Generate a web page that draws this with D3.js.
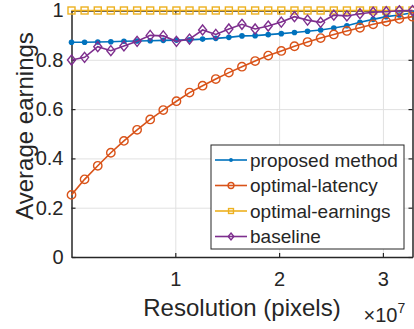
<!DOCTYPE html>
<html>
<head>
<meta charset="utf-8">
<script src="https://cdn.jsdelivr.net/npm/d3@7"></script>
<style>
  body { margin: 0; background: #fff; }
  text { font-family: "Liberation Sans", Arial, Helvetica, sans-serif; fill: #262626; }
</style>
</head>
<body>
<svg id="chart"></svg>
<script>
// resolution in units of 1e7 pixels
const resolution = [0, 0.126, 0.253, 0.379, 0.505, 0.632, 0.758, 0.884, 1.011, 1.137,
  1.263, 1.390, 1.516, 1.642, 1.769, 1.895, 2.021, 2.148, 2.274, 2.400,
  2.527, 2.653, 2.779, 2.906, 3.032, 3.158, 3.285];

const proposedMethod = [0.871, 0.871, 0.872, 0.873, 0.875, 0.876, 0.877, 0.879, 0.880, 0.881,
  0.884, 0.887, 0.891, 0.897, 0.898, 0.902, 0.906, 0.911, 0.916, 0.921,
  0.929, 0.938, 0.952, 0.964, 0.975, 0.982, 0.991];

const optimalLatency = [0.252, 0.315, 0.370, 0.423, 0.471, 0.516, 0.558, 0.596, 0.632, 0.667,
  0.695, 0.722, 0.748, 0.772, 0.795, 0.817, 0.836, 0.855, 0.872, 0.888,
  0.903, 0.917, 0.930, 0.944, 0.955, 0.966, 0.975];

const optimalEarnings = [1, 1, 1, 1, 1, 1, 1, 1, 1, 1,
  1, 1, 1, 1, 1, 1, 1, 1, 1, 1,
  1, 1, 1, 1, 1, 1, 1];

const baseline = [0.799, 0.810, 0.853, 0.837, 0.856, 0.875, 0.899, 0.897, 0.875, 0.884,
  0.921, 0.903, 0.925, 0.944, 0.925, 0.937, 0.953, 0.975, 0.961, 0.952,
  0.981, 0.978, 0.987, 0.993, 0.995, 0.999, 1.0];

const seriesNames = ["proposed method", "optimal-latency", "optimal-earnings", "baseline"];
const xTicks = [1, 2, 3];
const yTicks = [0, 0.2, 0.4, 0.6, 0.8, 1];

class LineChart {

  constructor(_config) {
    this.config = {
      parentElement: _config.parentElement,
      containerWidth: _config.containerWidth || 414,
      containerHeight: _config.containerHeight || 329,
      margin: { top: 10.5, bottom: 72, right: 1.5, left: 71.5 }
    }
    this.initVis();
  }

  initVis() {
    let vis = this;

    vis.width = vis.config.containerWidth - vis.config.margin.left - vis.config.margin.right;
    vis.height = vis.config.containerHeight - vis.config.margin.top - vis.config.margin.bottom;

    vis.svg = d3.select(vis.config.parentElement)
        .attr('width', vis.config.containerWidth)
        .attr('height', vis.config.containerHeight);

    vis.chart = vis.svg.append('g')
        .attr('transform', `translate(${vis.config.margin.left},${vis.config.margin.top})`);

    vis.xScale = d3.scaleLinear()
        .domain([0, resolution[resolution.length - 1]])
        .range([0, vis.width]);

    vis.yScale = d3.scaleLinear()
        .domain([0, 1])
        .range([vis.height, 0]);

    // grid
    vis.chart.append('g')
        .call(d3.axisBottom(vis.xScale).tickValues(xTicks).tickSize(vis.height).tickFormat(''))
        .call(g => g.select('.domain').remove())
        .selectAll('line').attr('stroke', '#e1e1e1').attr('stroke-width', 1);

    vis.chart.append('g')
        .call(d3.axisLeft(vis.yScale).tickValues(yTicks).tickSize(-vis.width).tickFormat(''))
        .call(g => g.select('.domain').remove())
        .selectAll('line').attr('stroke', '#e1e1e1').attr('stroke-width', 1);

    // axes (ticks inside, on all four sides)
    const tl = 4;
    const fmt = d => d3.format('~g')(d);
    const axX = vis.chart.append('g')
        .attr('transform', `translate(0,${vis.height})`)
        .call(d3.axisBottom(vis.xScale).tickValues(xTicks).tickSize(-tl).tickPadding(15)
          .tickSizeOuter(0).tickFormat(fmt));
    const axXTop = vis.chart.append('g')
        .call(d3.axisTop(vis.xScale).tickValues(xTicks).tickSize(-tl).tickFormat('').tickSizeOuter(0));
    const axY = vis.chart.append('g')
        .call(d3.axisLeft(vis.yScale).tickValues(yTicks).tickSize(-tl).tickPadding(8)
          .tickSizeOuter(0).tickFormat(fmt));
    const axYRight = vis.chart.append('g')
        .attr('transform', `translate(${vis.width},0)`)
        .call(d3.axisRight(vis.yScale).tickValues(yTicks).tickSize(-tl).tickFormat('').tickSizeOuter(0));

    [axX, axXTop, axY, axYRight].forEach(a => {
      a.select('.domain').attr('stroke', '#262626').attr('stroke-width', 1.5);
      a.selectAll('line').attr('stroke', '#262626').attr('stroke-width', 1.2);
      a.selectAll('text').style('font-size', '20px').attr('fill', '#262626')
        .style('font-family', '"Liberation Sans", Arial, sans-serif');
    });

    // axis labels
    vis.chart.append('text')
        .attr('text-anchor', 'middle')
        .attr('x', vis.width / 2)
        .attr('y', vis.height + 59)
        .style('font-size', '24px')
        .text('Resolution (pixels)');

    const expo = vis.chart.append('text')
        .attr('x', vis.width - 49)
        .attr('y', vis.height + 65)
        .style('font-size', '20px');
    expo.append('tspan').text('\u00d710');
    expo.append('tspan').attr('dy', -9).style('font-size', '14px').text('7');

    vis.chart.append('text')
        .attr('text-anchor', 'middle')
        .attr('transform', `translate(${-vis.config.margin.left + 33},${126 - vis.config.margin.top}) rotate(-90)`)
        .style('font-size', '24px')
        .text('Average earnings');

    vis.series = [
      { name: seriesNames[0], values: proposedMethod, color: '#0072BD', marker: 'dot' },
      { name: seriesNames[1], values: optimalLatency, color: '#D95319', marker: 'circle' },
      { name: seriesNames[2], values: optimalEarnings, color: '#EDB120', marker: 'square' },
      { name: seriesNames[3], values: baseline, color: '#7E2F8E', marker: 'diamond' }
    ];

    vis.updateVis();
  }

  drawMarker(g, type, color, s) {
    if (type === 'dot') {
      g.append('circle').attr('r', 2.8 * s).attr('fill', color);
    } else if (type === 'circle') {
      g.append('circle').attr('r', 4.2 * s).attr('fill', 'none')
        .attr('stroke', color).attr('stroke-width', 1.4);
    } else if (type === 'square') {
      g.append('rect').attr('x', -3.5 * s).attr('y', -3.5 * s)
        .attr('width', 7 * s).attr('height', 7 * s).attr('fill', 'none')
        .attr('stroke', color).attr('stroke-width', 1.4);
    } else {
      g.append('path')
        .attr('d', `M0,${-5 * s}L${4 * s},0L0,${5 * s}L${-4 * s},0Z`)
        .attr('fill', 'none').attr('stroke', color).attr('stroke-width', 1.4);
    }
  }

  updateVis() {
    let vis = this;

    const line = d3.line()
        .x((d, i) => vis.xScale(resolution[i]))
        .y(d => vis.yScale(d));

    vis.series.forEach(s => {
      const g = vis.chart.append('g');
      g.append('path')
          .attr('d', line(s.values))
          .attr('fill', 'none')
          .attr('stroke', s.color)
          .attr('stroke-width', 1.6);
      g.selectAll('.mk')
        .data(s.values)
        .join('g')
          .attr('class', 'mk')
          .attr('transform', (d, i) => `translate(${vis.xScale(resolution[i])},${vis.yScale(d)})`)
          .each(function() { vis.drawMarker(d3.select(this), s.marker, s.color, 1); });
    });

    // legend
    const lx = 211 - vis.config.margin.left;
    const ly = 145 - vis.config.margin.top;
    const legend = vis.chart.append('g')
        .attr('transform', `translate(${lx},${ly})`);
    legend.append('rect')
        .attr('width', 193).attr('height', 104)
        .attr('fill', '#fff').attr('stroke', '#262626').attr('stroke-width', 1);

    vis.series.forEach((s, i) => {
      const y = 15 + i * 25.5;
      legend.append('line')
          .attr('x1', 4).attr('x2', 36).attr('y1', y).attr('y2', y)
          .attr('stroke', s.color).attr('stroke-width', 1.6);
      const m = legend.append('g').attr('transform', `translate(20,${y})`);
      vis.drawMarker(m, s.marker, s.color, 0.7);
      legend.append('text')
          .attr('x', 39).attr('y', y + 6.5)
          .style('font-size', '19px')
          .text(s.name);
    });
  }
}

new LineChart({ parentElement: '#chart', containerWidth: 414, containerHeight: 329 });
</script>
</body>
</html>
